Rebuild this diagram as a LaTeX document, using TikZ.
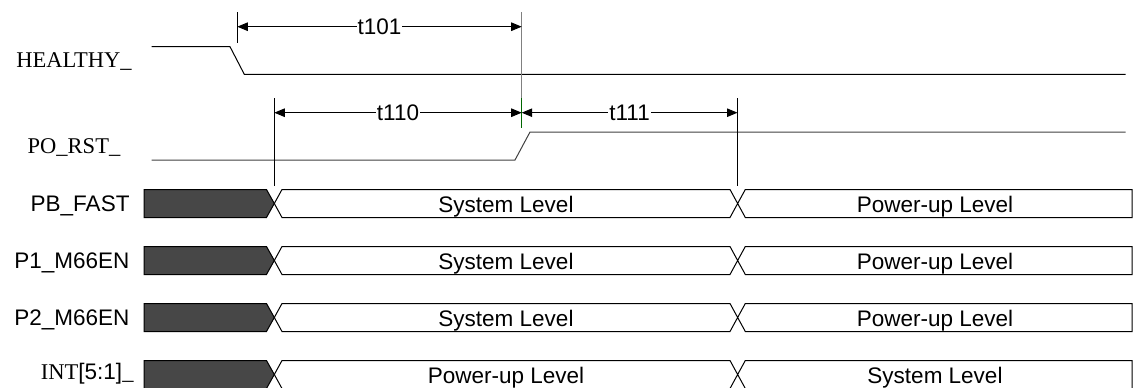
\documentclass[tikz,border=0pt]{standalone}
\usepackage{fontspec}
\setmainfont{Liberation Serif}
\setsansfont{Liberation Sans}
\usetikzlibrary{positioning, arrows.meta}

\begin{document}
\begin{tikzpicture}[x=1pt, y=-1pt, line width=1pt,
    txt/.style={font=\fontsize{22.5}{27}\selectfont, inner sep=0pt},
    sans/.style={txt, font=\fontsize{22.5}{27}\selectfont\sffamily},
    dim/.style={{Triangle[length=10.5pt,width=8.5pt]}-{Triangle[length=10.5pt,width=8.5pt]}},
    gap/.style={sans, fill=white, inner xsep=1pt, inner ysep=0pt},
    dark/.style={fill=black!72, draw=black}]
\useasboundingbox (0,0) rectangle (1133,388);

\node[txt] (healthy) at (74,62) {HEALTHY\_};
\node[txt] (porst) at (74,147) {PO\_RST\_};
\node[sans, anchor=base east] (pbfast) at (130,211.7) {PB\_FAST};
\node[sans, anchor=base east] (p1en) at (130,268.7) {P1\_M66EN};
\node[sans, anchor=base east] (p2en) at (130,325.7) {P2\_M66EN};
\node[txt, anchor=base east] (intr) at (134,379.5) {INT\textsf{[5:1]}\_};

\draw (151.7,46.7) -- (230,46.7) -- (244.3,74.3) -- (1125.7,74.3);
\draw[black!75] (151.7,160) -- (515,160) -- (530,132) -- (1125.7,132);

\coordinate (fall) at (237.3,26.7);
\coordinate (rise) at (521.7,26.7);
\coordinate (start) at (274.3,112.7);
\coordinate (mid) at (521.7,112.7);
\coordinate (stop) at (737.5,112.7);

\draw (237.3,12) -- (237.3,43);
\draw[black!50] (521.7,12) -- (521.7,98);
\draw[green!40!black] (521.7,98) -- (521.7,128);
\draw (274.3,98) -- (274.3,186);
\draw (737.5,98) -- (737.5,186);

\draw[dim] (fall) -- node[gap] (t101) {t101} (rise);
\draw[dim] (start) -- node[gap] (t110) {t110} (mid);
\draw[dim] (mid) -- node[gap] (t111) {t111} (stop);

\foreach \i/\y/\a/\b in {0/203.5/System Level/Power-up Level,
    1/260.5/System Level/Power-up Level,
    2/317.5/System Level/Power-up Level,
    3/374.5/Power-up Level/System Level}
{
  \draw[dark] (144,\y-14) -- (266.5,\y-14) -- (274.3,\y) -- (266.5,\y+14)
      -- (144,\y+14) -- cycle;
  \draw (274.3,\y) -- (282,\y-14) -- (730,\y-14) -- (745.3,\y+14)
      -- (1132,\y+14) -- (1132,\y-14) -- (745.3,\y-14) -- (730,\y+14)
      -- (282,\y+14) -- cycle;
  \node[sans, anchor=base] (first\i) at (506,\y+8.5) {\a};
  \node[sans, anchor=base] (second\i) at (935,\y+8.5) {\b};
}
\end{tikzpicture}
\end{document}
